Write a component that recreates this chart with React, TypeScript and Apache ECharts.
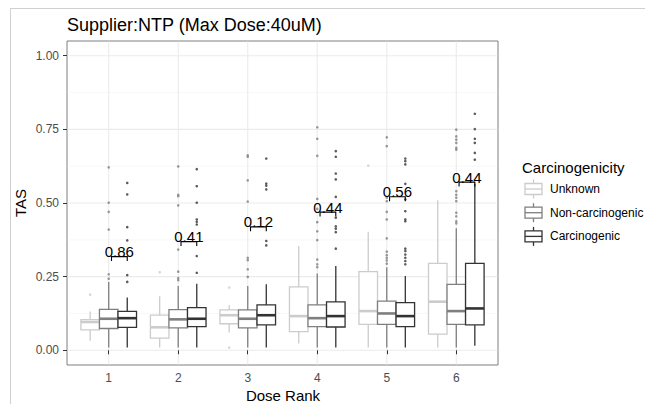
import React, { useEffect, useRef } from "react";
import * as echarts from "echarts";

// ---------- data ----------
const doses = [1, 2, 3, 4, 5, 6];
const groupNames = ["Unknown", "Non-carcinogenic", "Carcinogenic"];
const groupColors = ["#cccccc", "#7f7f7f", "#333333"];
const yMajorTicks = [0, 0.25, 0.5, 0.75, 1];
const yMinorTicks = [0.125, 0.375, 0.625, 0.875];

// [lowerWhisker, Q1, median, Q3, upperWhisker] per dose rank
const unknownBoxes = [
  [0.032, 0.069, 0.096, 0.104, 0.132],
  [0.009, 0.041, 0.078, 0.119, 0.183],
  [0.06, 0.09, 0.119, 0.137, 0.154],
  [0.023, 0.063, 0.116, 0.215, 0.354],
  [0.009, 0.088, 0.133, 0.267, 0.402],
  [0.009, 0.055, 0.165, 0.295, 0.509],
];
const nonCarcBoxes = [
  [0.009, 0.074, 0.107, 0.139, 0.232],
  [0.009, 0.076, 0.105, 0.138, 0.218],
  [0.009, 0.076, 0.107, 0.137, 0.218],
  [0.009, 0.08, 0.109, 0.154, 0.261],
  [0.009, 0.088, 0.125, 0.167, 0.282],
  [0.009, 0.088, 0.133, 0.224, 0.414],
];
const carcBoxes = [
  [0.009, 0.078, 0.109, 0.132, 0.179],
  [0.009, 0.08, 0.107, 0.145, 0.226],
  [0.009, 0.086, 0.119, 0.154, 0.224],
  [0.009, 0.079, 0.116, 0.164, 0.286],
  [0.009, 0.08, 0.116, 0.162, 0.252],
  [0.015, 0.086, 0.142, 0.295, 0.565],
];

// outliers per dose rank
const unknownOutliers = [[0.189], [0.265], [0.213, 0.009], [], [0.627], []];
const nonCarcOutliers = [
  [0.621, 0.501, 0.47, 0.41, 0.258, 0.243],
  [0.624, 0.528, 0.523, 0.492, 0.342, 0.267, 0.245, 0.238],
  [0.662, 0.657, 0.577, 0.505, 0.314, 0.306, 0.275, 0.249],
  [0.757, 0.718, 0.66, 0.514, 0.48, 0.435, 0.404, 0.374, 0.308, 0.292, 0.282],
  [0.723, 0.693, 0.518, 0.506, 0.47, 0.444, 0.38, 0.335, 0.323, 0.314, 0.305, 0.294],
  [0.749, 0.726, 0.715, 0.704, 0.687, 0.681, 0.54, 0.528, 0.518, 0.506, 0.467, 0.455, 0.438, 0.431],
];
const carcOutliers = [
  [0.568, 0.529, 0.418, 0.373, 0.255, 0.232],
  [0.615, 0.557, 0.501, 0.444, 0.436, 0.427, 0.32, 0.263],
  [0.651, 0.566, 0.559, 0.546, 0.371, 0.356],
  [0.676, 0.657, 0.6, 0.58, 0.521, 0.45, 0.421, 0.413, 0.401, 0.345],
  [0.651, 0.642, 0.631, 0.565, 0.512, 0.472, 0.444, 0.438, 0.345, 0.337, 0.325, 0.314, 0.303, 0.292],
  [0.803, 0.751, 0.718, 0.704, 0.67, 0.647],
];

// significance brackets (Non-carcinogenic vs Carcinogenic)
const pValues = ["0.86", "0.41", "0.12", "0.44", "0.56", "0.44"];
const bracketY = [0.318, 0.369, 0.419, 0.469, 0.521, 0.571];

// ---------- layout constants ----------
const FONT = "Liberation Sans, Arial, Helvetica, sans-serif";
const DODGE = 0.8 / 3;
const HALF_W = DODGE / 2;
const groupOffsets = [-DODGE, 0, DODGE];
const TIP = 0.015;

const allBoxes = [unknownBoxes, nonCarcBoxes, carcBoxes];
const allOutliers = [unknownOutliers, nonCarcOutliers, carcOutliers];

function buildOption() {
  const series: any[] = [];

  // gridlines
  const gridData: any[] = [];
  yMinorTicks.forEach((v) => gridData.push([v, 0]));
  yMajorTicks.forEach((v) => gridData.push([v, 1]));
  doses.forEach((d) => gridData.push([d, 2]));
  series.push({
    type: "custom",
    silent: true,
    z: 0,
    data: gridData,
    renderItem: (params: any, api: any) => {
      const cs = params.coordSys;
      const v = api.value(0);
      const kind = api.value(1);
      if (kind === 2) {
        const x = api.coord([v, 0])[0];
        return {
          type: "line",
          shape: { x1: x, y1: cs.y + 0.5, x2: x, y2: cs.y + cs.height - 0.5 },
          style: { stroke: "#ebebeb", lineWidth: 1.1 },
        };
      }
      const y = api.coord([1, v])[1];
      return {
        type: "line",
        shape: { x1: cs.x + 0.5, y1: y, x2: cs.x + cs.width - 0.5, y2: y },
        style: { stroke: kind === 1 ? "#ebebeb" : "#f4f4f4", lineWidth: kind === 1 ? 1.1 : 0.6 },
      };
    },
  });

  // outliers
  allOutliers.forEach((groupOut, gi) => {
    const pts: number[][] = [];
    groupOut.forEach((vals, di) => vals.forEach((v) => pts.push([doses[di] + groupOffsets[gi], v])));
    series.push({
      type: "scatter",
      name: groupNames[gi] + " outliers",
      symbol: "circle",
      symbolSize: 2.6,
      z: 2,
      silent: true,
      itemStyle: { color: groupColors[gi] },
      data: pts,
    });
  });

  // boxes
  allBoxes.forEach((boxes, gi) => {
    const color = groupColors[gi];
    series.push({
      type: "custom",
      name: groupNames[gi],
      z: 3,
      silent: true,
      encode: { x: 0, y: [1, 2, 3, 4, 5] },
      data: boxes.map((b, di) => [doses[di], ...b]),
      renderItem: (params: any, api: any) => {
        const cx = api.value(0) + groupOffsets[gi];
        const lo = api.value(1), q1 = api.value(2), med = api.value(3), q3 = api.value(4), hi = api.value(5);
        const pl = api.coord([cx - HALF_W, q3]);
        const pr = api.coord([cx + HALF_W, q1]);
        const pc = api.coord([cx, med]);
        const pLo = api.coord([cx, lo]);
        const pHi = api.coord([cx, hi]);
        const lw = 1.3;
        return {
          type: "group",
          children: [
            { type: "line", shape: { x1: pc[0], y1: pHi[1], x2: pc[0], y2: pl[1] }, style: { stroke: color, lineWidth: lw } },
            { type: "line", shape: { x1: pc[0], y1: pr[1], x2: pc[0], y2: pLo[1] }, style: { stroke: color, lineWidth: lw } },
            {
              type: "rect",
              shape: { x: pl[0], y: pl[1], width: pr[0] - pl[0], height: pr[1] - pl[1] },
              style: { fill: "#ffffff", stroke: color, lineWidth: lw },
            },
            { type: "line", shape: { x1: pl[0], y1: pc[1], x2: pr[0], y2: pc[1] }, style: { stroke: color, lineWidth: 2.6 } },
          ],
        };
      },
    });
  });

  // brackets
  series.push({
    type: "custom",
    name: "brackets",
    z: 5,
    silent: true,
    data: doses.map((d, i) => [d, bracketY[i], i]),
    renderItem: (params: any, api: any) => {
      const d = api.value(0);
      const y = api.value(1);
      const idx = api.value(2);
      const a = api.coord([d + 0.04, y]);
      const b = api.coord([d + DODGE, y]);
      const aT = api.coord([d + 0.04, y - TIP]);
      return {
        type: "group",
        children: [
          {
            type: "polyline",
            shape: { points: [[a[0], aT[1]], a, b, [b[0], aT[1]]] },
            style: { stroke: "#000", lineWidth: 1.1, fill: null },
          },
          {
            type: "text",
            style: {
              text: pValues[idx],
              x: (a[0] + b[0]) / 2,
              y: a[1] + 2.5,
              textAlign: "center",
              textVerticalAlign: "bottom",
              fontSize: 15,
              fontFamily: FONT,
              fill: "#000",
            },
          },
        ],
      };
    },
  });

  // legend graphics
  const legendChildren: any[] = [
    {
      type: "text",
      style: { text: "Carcinogenicity", x: 522, y: 167, textVerticalAlign: "middle", fontSize: 15, fontFamily: FONT, fill: "#000" },
    },
  ];
  const keyY = [189, 212.7, 236.4];
  groupNames.forEach((name, i) => {
    const cy = keyY[i];
    const cx = 533.5;
    const c = groupColors[i];
    legendChildren.push(
      { type: "line", shape: { x1: cx, y1: cy - 9.5, x2: cx, y2: cy + 9.5 }, style: { stroke: c, lineWidth: 1.3 } },
      { type: "rect", shape: { x: cx - 8.5, y: cy - 5.5, width: 17, height: 11 }, style: { fill: "#fff", stroke: c, lineWidth: 1.3 } },
      { type: "line", shape: { x1: cx - 8.5, y1: cy, x2: cx + 8.5, y2: cy }, style: { stroke: c, lineWidth: 1.3 } },
      { type: "text", style: { text: name, x: 550, y: cy, textVerticalAlign: "middle", fontSize: 12, fontFamily: FONT, fill: "#000" } }
    );
  });

  return {
    animation: false,
    backgroundColor: "#ffffff",
    grid: { left: 67, top: 41, width: 431, height: 324, show: true, borderColor: "#7f7f7f", borderWidth: 1, backgroundColor: "transparent" },
    xAxis: {
      type: "value",
      min: 0.4,
      max: 6.6,
      axisLine: { show: false },
      splitLine: { show: false },
      axisTick: { show: true, customValues: doses, length: 4, lineStyle: { color: "#333333", width: 1 } },
      axisLabel: { customValues: doses, margin: 7, color: "#4d4d4d", fontSize: 12, fontFamily: FONT },
    },
    yAxis: {
      type: "value",
      min: -0.05,
      max: 1.05,
      axisLine: { show: false },
      splitLine: { show: false },
      axisTick: { show: true, customValues: yMajorTicks, length: 4, lineStyle: { color: "#333333", width: 1 } },
      axisLabel: {
        customValues: yMajorTicks,
        margin: 8,
        color: "#4d4d4d",
        fontSize: 12,
        fontFamily: FONT,
        formatter: (v: number) => v.toFixed(2),
      },
    },
    series,
    graphic: [
      { type: "line", shape: { x1: 10, y1: 8.5, x2: 645, y2: 8.5 }, style: { stroke: "#d0d0d0", lineWidth: 1 }, silent: true },
      { type: "line", shape: { x1: 10.5, y1: 8, x2: 10.5, y2: 404 }, style: { stroke: "#d0d0d0", lineWidth: 1 }, silent: true },
      {
        type: "text",
        x: 67,
        y: 25,
        style: { text: "Supplier:NTP (Max Dose:40uM)", textVerticalAlign: "middle", fontSize: 18, fontFamily: FONT, fill: "#000" },
      },
      {
        type: "text",
        x: 20,
        y: 203,
        rotation: Math.PI / 2,
        style: { text: "TAS", textAlign: "center", textVerticalAlign: "middle", fontSize: 15, fontFamily: FONT, fill: "#000" },
      },
      {
        type: "text",
        x: 283,
        y: 395,
        style: { text: "Dose Rank", textAlign: "center", textVerticalAlign: "middle", fontSize: 15, fontFamily: FONT, fill: "#000" },
      },
      { type: "group", children: legendChildren },
    ],
  };
}

export default function App() {
  const ref = useRef<HTMLDivElement>(null);
  useEffect(() => {
    if (!ref.current) return;
    const chart = echarts.init(ref.current, null, { renderer: "svg" });
    chart.setOption(buildOption() as any);
    return () => chart.dispose();
  }, []);
  return (
    <div
      ref={ref}
      style={{ position: "absolute", left: 0, top: 0, width: 645, height: 404, background: "#fff" }}
    />
  );
}
